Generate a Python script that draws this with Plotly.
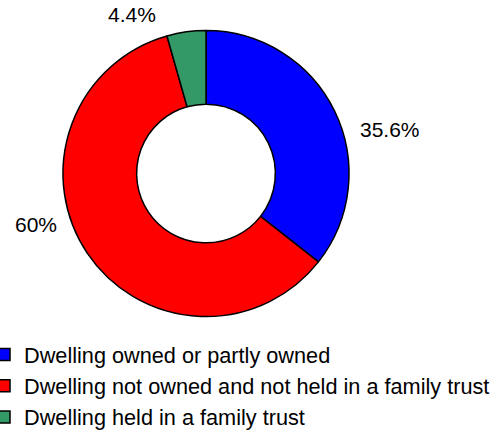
import plotly.graph_objects as go

categories = [
    "Dwelling owned or partly owned",
    "Dwelling not owned and not held in a family trust",
    "Dwelling held in a family trust",
]
values = [35.6, 60.0, 4.4]
value_labels = ["35.6%", "60%", "4.4%"]
colors = ["#0000FF", "#FF0000", "#339966"]

W, H = 502, 446
FONT = "Liberation Sans, Arial, sans-serif"

# pie geometry (pixels)
CX, CY, R = 206, 173.5, 143

fig = go.Figure(
    go.Pie(
        labels=categories,
        values=values,
        textinfo="none",
        hole=0.485,
        sort=False,
        direction="clockwise",
        rotation=0,
        marker=dict(colors=colors, line=dict(color="#000000", width=1.5)),
        domain=dict(x=[(CX - R) / W, (CX + R) / W], y=[(H - CY - R) / H, (H - CY + R) / H]),
        showlegend=True,
        hoverinfo="label+percent",
    )
)

# data labels placed around the ring (anchor offsets in pixels from the centre)
label_offsets = [(184, -44), (-170, 51), (-74, -159)]
for txt, (dx, dy) in zip(value_labels, label_offsets):
    fig.add_annotation(
        x=(CX + dx) / W, y=(H - (CY + dy)) / H, xref="paper", yref="paper",
        text=txt, showarrow=False, xanchor="center", yanchor="middle",
        font=dict(family=FONT, size=21, color="#000000"),
    )

fig.update_layout(
    width=W,
    height=H,
    margin=dict(l=0, r=0, t=0, b=0, autoexpand=False),
    paper_bgcolor="white",
    plot_bgcolor="white",
    font=dict(family=FONT, size=21, color="#000000"),
    legend=dict(
        x=-16 / W,
        xanchor="left",
        y=(H - 334) / H,
        yanchor="top",
        font=dict(size=21.7),
        bgcolor="rgba(0,0,0,0)",
        itemclick=False,
    ),
)

fig.write_html(
    "out.html",
    config={"displayModeBar": False},
    post_script="document.body.style.margin='0';",
)
